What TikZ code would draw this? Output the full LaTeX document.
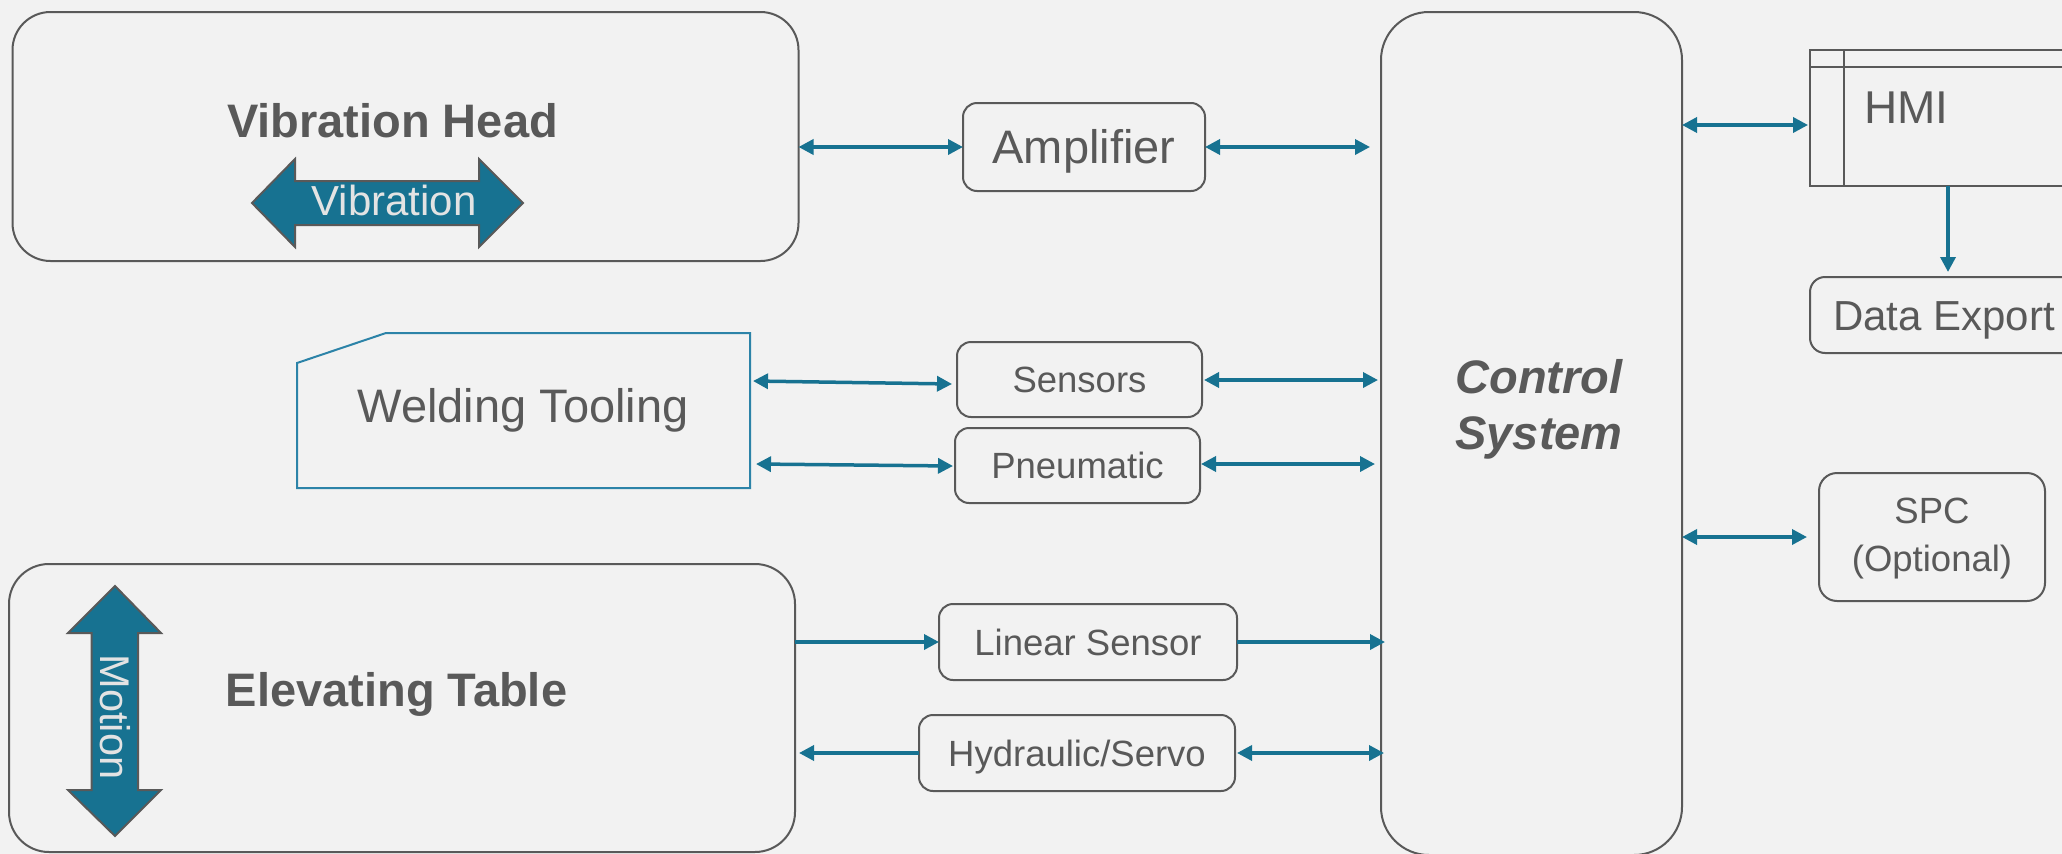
\documentclass[tikz,border=0pt]{standalone}
\usepackage{fontspec}
\setmainfont{Liberation Sans}
\usetikzlibrary{arrows.meta,calc}
\definecolor{bgc}{HTML}{F2F2F2}
\definecolor{grayc}{HTML}{595959}
\definecolor{tealc}{HTML}{177291}
\definecolor{weldc}{HTML}{2C83A8}
\definecolor{lightc}{HTML}{E3E3E3}
\newcommand\FontBig{\fontsize{47}{54}\selectfont}
\newcommand\FontL{\fontsize{47}{54}\selectfont}
\newcommand\FontM{\fontsize{42}{48}\selectfont}
\newcommand\FontS{\fontsize{36.5}{44}\selectfont}
\begin{document}
\begin{tikzpicture}[x=1pt,y=-1pt,
  >={Triangle[length=15pt,width=15pt]},
  box/.style={draw=grayc,line width=2pt,rectangle,inner sep=0pt,outer sep=0pt,text=grayc},
  plain/.style={rectangle,inner sep=0pt,outer sep=0pt,text=grayc},
  capL/.style={text height=33pt,text depth=0pt},
  capM/.style={text height=30pt,text depth=0pt},
  capS/.style={text height=26pt,text depth=0pt},
  dbl/.style={draw=tealc,line width=3.5pt,<->},
  sgl/.style={draw=tealc,line width=3.5pt,->},
  bigarrow/.style={fill=tealc,draw=grayc,line width=2pt,line join=miter}
]
\useasboundingbox[fill=bgc] (0,0) rectangle (2062,854);

% ---------- Vibration Head ----------
\node[box,rounded corners=38pt,minimum width=786pt,minimum height=249pt] (vh) at (405.5,136.5) {};
\node[plain,anchor=base,font=\FontBig\bfseries] (vht) at (392.5,137) {Vibration Head};
\draw[bigarrow] (252,203) -- (295,159) -- (295,181) -- (479,181) -- (479,159) -- (523,203)
  -- (479,247) -- (479,225) -- (295,225) -- (295,247) -- cycle;
\node[plain,anchor=base,text=lightc,font=\FontM] (vibt) at (394,215) {Vibration};

% ---------- Amplifier ----------
\node[box,capL,rounded corners=14pt,minimum width=242pt,minimum height=88pt,font=\FontL] (amp) at (1084,147) {Amplifier};

% ---------- Control System ----------
\node[box,rounded corners=48pt,minimum width=301pt,minimum height=843pt] (ctrl) at (1531.5,433.5) {};
\node[plain,align=center,font=\fontsize{47}{56}\selectfont\bfseries\itshape] (ctrlt) at (1539,409.5) {Control\\System};

% ---------- HMI ----------
\node[box,minimum width=265pt,minimum height=136pt] (hmi) at (1942.5,118) {};
\draw[grayc,line width=2pt] ($(hmi.north west)+(0,17)$) -- ($(hmi.north east)+(0,17)$);
\draw[grayc,line width=2pt] ($(hmi.north west)+(34,0)$) -- ($(hmi.south west)+(34,0)$);
\node[plain,anchor=base west,font=\fontsize{46}{52}\selectfont] (hmit) at (1864,123) {HMI};

% ---------- Data Export ----------
\node[box,capM,rounded corners=15pt,minimum width=268pt,minimum height=76pt,font=\FontM] (dexp) at (1944,315) {Data Export};

% ---------- SPC ----------
\node[box,rounded corners=18pt,minimum width=226pt,minimum height=128pt] (spc) at (1932,537) {};
\node[plain,align=center,font=\fontsize{36.5}{48}\selectfont] (spct) at (1932,539) {SPC\\(Optional)};

% ---------- Welding Tooling ----------
\node[plain,minimum width=453pt,minimum height=155pt] (weld) at (523.5,410.5) {};
\draw[weldc,line width=2pt] (weld.south west) -- ($(weld.north west)+(0,30)$) -- ($(weld.north west)+(89,0)$)
  -- (weld.north east) -- (weld.south east) -- cycle;
\node[plain,anchor=base,font=\FontL] (weldt) at (523,422) {Welding Tooling};

% ---------- Sensors / Pneumatic ----------
\node[box,capS,rounded corners=14pt,minimum width=245pt,minimum height=75pt,font=\FontS] (sens) at (1079.5,379.5) {Sensors};
\node[box,capS,rounded corners=14pt,minimum width=245pt,minimum height=75pt,font=\FontS] (pneu) at (1077.5,465.5) {Pneumatic};

% ---------- Elevating Table ----------
\node[box,rounded corners=40pt,minimum width=786pt,minimum height=288pt] (et) at (402,708) {};
\node[plain,anchor=base,font=\FontBig\bfseries] (ett) at (396.5,706) {Elevating Table};
\draw[bigarrow] (115,586) -- (161,633) -- (138,633) -- (138,790) -- (161,790) -- (115,836)
  -- (68,790) -- (91.5,790) -- (91.5,633) -- (68,633) -- cycle;
\node[plain,anchor=base,rotate=-90,text=lightc,font=\fontsize{41.5}{48}\selectfont] (mott) at (100,717) {Motion};

% ---------- Linear Sensor / Hydraulic ----------
\node[box,capS,rounded corners=14pt,minimum width=298pt,minimum height=76pt,font=\FontS] (lin) at (1088,642) {Linear Sensor};
\node[box,capS,rounded corners=14pt,minimum width=316pt,minimum height=76pt,font=\FontS] (hyd) at (1077,753) {Hydraulic/Servo};

% ---------- Connectors ----------
\draw[dbl] (vh.east |- amp.west) -- (amp.west);
\draw[dbl] (amp.east) -- ($(ctrl.west |- amp.east)+(-11,0)$);
\coordinate (yhmi) at (0,125);
\draw[dbl] (ctrl.east |- yhmi) -- ($(hmi.west |- yhmi)+(-2,0)$);
\coordinate (xde) at (1948,0);
\draw[sgl] (xde |- hmi.south) -- ($(xde |- dexp.north)+(0,-5)$);
\draw[dbl] (ctrl.east |- spc.west) -- ($(spc.west)+(-12,0)$);

\draw[dbl] ($(weld.east)+(3,-29.5)$) -- ($(sens.west)+(-5,4.5)$);
\draw[dbl] ($(sens.east)+(2,0.5)$) -- ($(ctrl.west |- sens.east)+(-3,0.5)$);
\draw[dbl] ($(weld.east)+(6,53.5)$) -- ($(pneu.west)+(-2,0.5)$);
\draw[dbl] ($(pneu.east)+(1,-1.5)$) -- ($(ctrl.west |- pneu.east)+(-6,-1.5)$);

\draw[sgl] (et.east |- lin.west) -- (lin.west);
\draw[sgl] (lin.east) -- ($(ctrl.west |- lin.east)+(4,0)$);
\draw[sgl] (hyd.west) -- ($(et.east |- hyd.west)+(4,0)$);
\draw[dbl] ($(hyd.east)+(2,0)$) -- ($(ctrl.west |- hyd.east)+(3,0)$);
\end{tikzpicture}
\end{document}
